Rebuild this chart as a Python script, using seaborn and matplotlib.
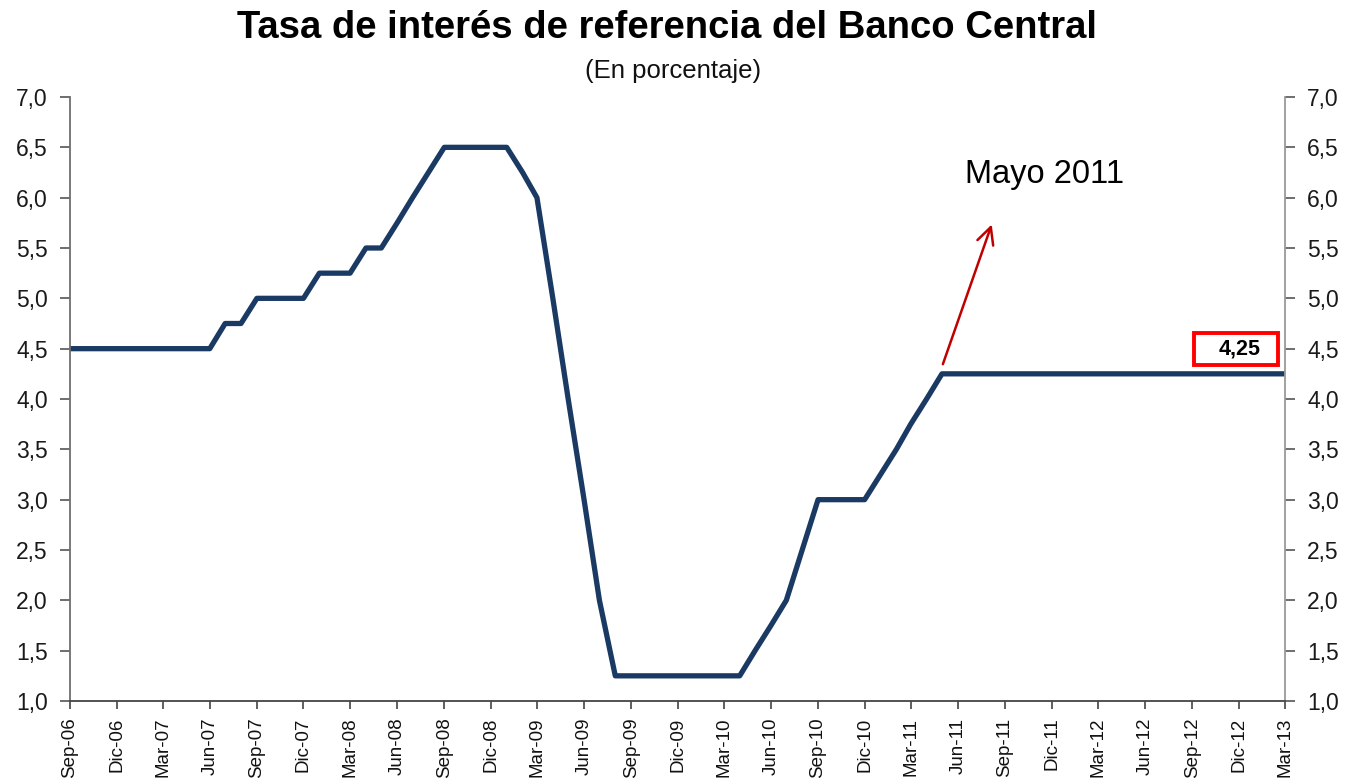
import matplotlib
matplotlib.use('Agg')
import matplotlib.pyplot as plt
import matplotlib.ticker as mticker
from matplotlib.patches import Rectangle
import pandas as pd
import seaborn as sns

# Monthly reference rate, Sep-06 .. Mar-13
months = pd.date_range('2006-09-01', '2013-03-01', freq='MS')
rate = [4.5, 4.5, 4.5, 4.5, 4.5, 4.5, 4.5, 4.5, 4.5, 4.5,          # Sep-06 .. Jun-07
        4.75, 4.75, 5.0, 5.0, 5.0, 5.0,                            # Jul-07 .. Dec-07
        5.25, 5.25, 5.25, 5.5, 5.5, 5.75, 6.0, 6.25,               # Jan-08 .. Aug-08
        6.5, 6.5, 6.5, 6.5, 6.5,                                   # Sep-08 .. Jan-09
        6.25, 6.0, 5.0, 4.0, 3.0, 2.0, 1.25,                       # Feb-09 .. Aug-09
        1.25, 1.25, 1.25, 1.25, 1.25, 1.25, 1.25, 1.25,            # Sep-09 .. Apr-10
        1.5, 1.75, 2.0, 2.5, 3.0, 3.0, 3.0, 3.0,                   # May-10 .. Dec-10
        3.25, 3.5, 3.75, 4.0, 4.25,                                # Jan-11 .. May-11
        4.25, 4.25, 4.25, 4.25, 4.25, 4.25, 4.25, 4.25, 4.25, 4.25,
        4.25, 4.25, 4.25, 4.25, 4.25, 4.25, 4.25, 4.25, 4.25, 4.25,
        4.25, 4.25]                                                # Jun-11 .. Mar-13

tick_labels = ['Sep-06', 'Dic-06', 'Mar-07', 'Jun-07', 'Sep-07', 'Dic-07', 'Mar-08',
               'Jun-08', 'Sep-08', 'Dic-08', 'Mar-09', 'Jun-09', 'Sep-09', 'Dic-09',
               'Mar-10', 'Jun-10', 'Sep-10', 'Dic-10', 'Mar-11', 'Jun-11', 'Sep-11',
               'Dic-11', 'Mar-12', 'Jun-12', 'Sep-12', 'Dic-12', 'Mar-13']
y_ticks = [1.0, 1.5, 2.0, 2.5, 3.0, 3.5, 4.0, 4.5, 5.0, 5.5, 6.0, 6.5, 7.0]

df = pd.DataFrame({'fecha': months, 'tasa': rate})

sns.set_style('white')
plt.rcParams['font.family'] = ['Liberation Sans', 'DejaVu Sans']
plt.rcParams['text.color'] = 'black'

fig = plt.figure(figsize=(13.47, 7.78), dpi=100)
ax = fig.add_axes([70 / 1347, 77 / 778, 1215 / 1347, 604 / 778])

sns.lineplot(data=df, x='fecha', y='tasa', ax=ax, color='#1A3A64', linewidth=3.8)

ax.set_xlim(months[0], months[-1])
ax.set_ylim(1.0, 7.0)
ax.set_xticks(months[::3])
ax.set_xticklabels(tick_labels, rotation=90, fontsize=13.5, color='#111111')
ax.set_yticks(y_ticks)
ax.yaxis.set_major_formatter(mticker.FuncFormatter(lambda v, p: f'{v:.1f}'.replace('.', ',')))
ax.tick_params(axis='y', left=True, right=True, labelleft=True, labelright=True,
               direction='out', length=7, width=1.2, color='#555555',
               labelsize=16.5, labelcolor='#1a1a1a', pad=9)
ax.tick_params(axis='x', bottom=True, direction='out', length=6, width=1.2,
               color='#444444', pad=6)
ax.set_xlabel('')
ax.set_ylabel('')

ax.spines['top'].set_visible(False)
ax.spines['left'].set_color('#6e6e6e')
ax.spines['right'].set_color('#9a9a9a')
ax.spines['bottom'].set_color('#444444')
for s in ['left', 'right', 'bottom']:
    ax.spines[s].set_linewidth(1.3)

# annotations
ax.annotate('', xy=(pd.Timestamp('2011-08-08'), 5.76), xytext=(pd.Timestamp('2011-05-01'), 4.32),
            arrowprops=dict(arrowstyle='->', color='#C00000', lw=1.8, mutation_scale=30))
ax.text(pd.Timestamp('2011-11-18'), 6.23, 'Mayo 2011', fontsize=23.5, ha='center', va='center',
        color='black')
ax.add_patch(Rectangle((0.925, 0.5563), 0.0691, 0.053, transform=ax.transAxes,
                       facecolor='white', edgecolor='#FF0000', linewidth=2.8, zorder=5))
ax.text(0.9625, 0.5835, f'{rate[-1]:.2f}'.replace('.', ','), transform=ax.transAxes,
        fontsize=15.5, fontweight='bold', ha='center', va='center', color='black', zorder=6)

fig.text(667 / 1347, 1 - 28 / 778, 'Tasa de interés de referencia del Banco Central',
         fontsize=27.5, fontweight='bold', ha='center', va='center')
fig.text(673 / 1347, 1 - 71 / 778, '(En porcentaje)', fontsize=18.5, ha='center', va='center',
         color='#111111')

fig.savefig('out.png', dpi=100)
